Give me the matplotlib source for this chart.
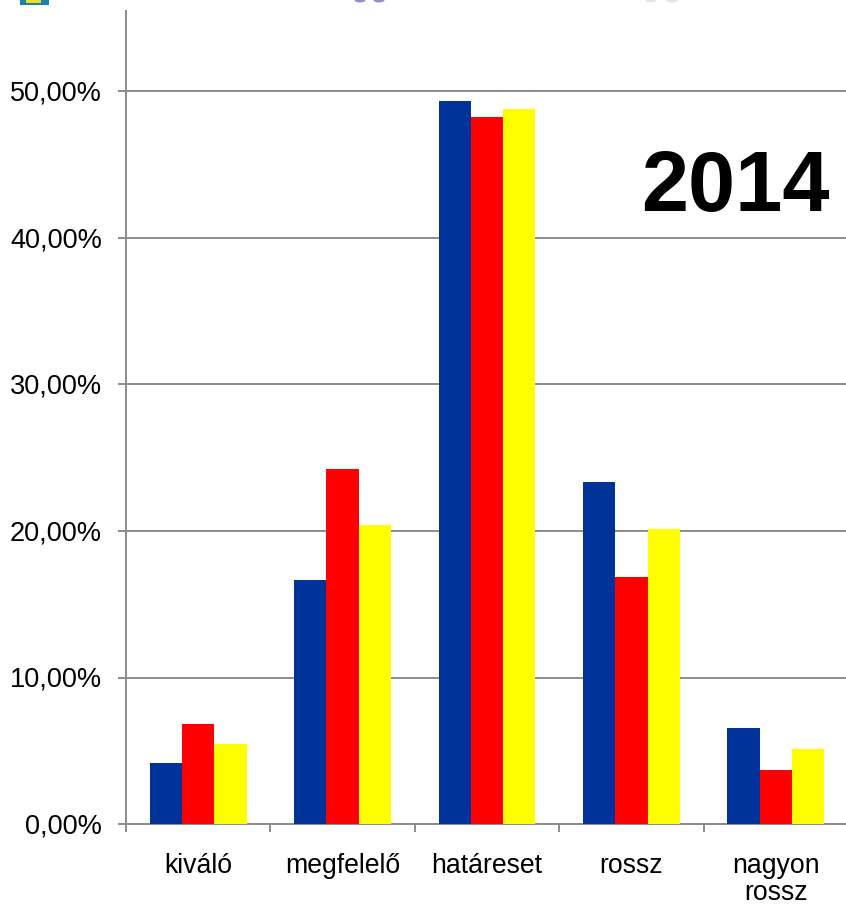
import numpy as np
from matplotlib import pyplot as plt
from matplotlib.patches import Rectangle, Ellipse
from matplotlib.transforms import ScaledTranslation

categories = ["kiváló", "megfelelő", "határeset", "rossz", "nagyon\nrossz"]
series_blue = [4.15, 16.65, 49.3, 23.3, 6.55]
series_red = [6.85, 24.2, 48.25, 16.85, 3.7]
series_yellow = [5.45, 20.4, 48.8, 20.1, 5.15]
y_ticks = [0, 10, 20, 30, 40, 50]
y_labels = ["0,00%", "10,00%", "20,00%", "30,00%", "40,00%", "50,00%"]

W, H = 846, 906
GREY = "#8c8c8c"

if __name__ == '__main__':
    plt.rcParams['font.family'] = ['Liberation Sans', 'DejaVu Sans']

    fig = plt.figure(figsize=(W / 100, H / 100), dpi=100)
    ax = fig.add_axes([126 / W, 1 - 824.2 / H, 722 / W, (824.2 - 11) / H])

    x = np.arange(len(categories))
    width = 0.223
    ax.bar(x - width, series_blue, width, color="#003399", zorder=3)
    ax.bar(x, series_red, width, color="#ff0000", zorder=3)
    ax.bar(x + width, series_yellow, width, color="#ffff00", zorder=3)

    ax.set_xlim(-0.5, 4.5)
    ax.set_ylim(0, 55.45)

    ax.set_yticks(y_ticks)
    ax.set_yticklabels(y_labels, fontsize=19.5, color="black")
    ax.grid(axis="y", color=GREY, linewidth=1.4, zorder=1)
    ax.tick_params(axis="y", length=5.8, width=1.4, color=GREY, pad=11.5)
    for label in ax.get_yticklabels():
        label.set_transform(label.get_transform() + ScaledTranslation(0, 0.4 / 72, fig.dpi_scale_trans))

    # ticks sit between the groups, labels under the group centres
    ax.set_xticks(np.append(x[0] - 0.5, x[:-1] + 0.5))
    ax.set_xticklabels([])
    ax.set_xticks(x, minor=True)
    ax.set_xticklabels(categories, minor=True, fontsize=19.2, color="black", linespacing=1.08)
    ax.tick_params(axis="x", which="major", length=5.8, width=1.4, color=GREY)
    ax.tick_params(axis="x", which="minor", length=0, pad=20.5)

    for side in ["top", "right"]:
        ax.spines[side].set_visible(False)
    for side in ["left", "bottom"]:
        ax.spines[side].set_color(GREY)
        ax.spines[side].set_linewidth(1.4)

    fig.text(830 / W, 1 - 210.5 / H, "2014", fontsize=61, fontweight="bold", color="black", ha="right", va="baseline")

    # cropped logo and the bottom of the cut-off title at the top edge
    fig.add_artist(Rectangle((20 / W, 1 - 5 / H), 29 / W, 5 / H, transform=fig.transFigure, facecolor="#1f7fb0", edgecolor="none"))
    fig.add_artist(Rectangle((26 / W, 1 - 3 / H), 15 / W, 3 / H, transform=fig.transFigure, facecolor="#e8e020", edgecolor="none"))
    for cx, shade in [(360, "#8f8fcc"), (379, "#8f8fcc"), (651, "#e2e2f6"), (672, "#e2e2f6")]:
        fig.add_artist(Ellipse((cx / W, 1), 11 / W, 5 / H, transform=fig.transFigure, facecolor=shade, edgecolor="none"))

    fig.savefig("out.png", dpi=100)
